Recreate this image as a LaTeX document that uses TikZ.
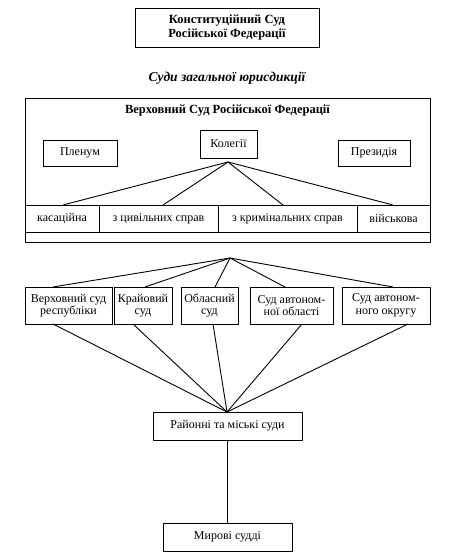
\documentclass[tikz,border=0pt]{standalone}
\usepackage{fontspec}
\setmainfont{Liberation Serif}
\usetikzlibrary{positioning}

\begin{document}
\begin{tikzpicture}[x=1pt,y=-1pt,line width=0.9pt,
  box/.style = {shape=rectangle, draw, align=center, inner sep=0pt,
    font=\fontsize{12}{12.5}\selectfont},
  bbox/.style = {box, font=\bfseries\fontsize{12.5}{14}\selectfont},
  link/.style = {draw}
  ]
  \useasboundingbox (0,0) rectangle (461,560);
  % top
  \node[bbox, minimum width=184pt, minimum height=39pt] (ks) at (227,27.5)
    {Конституційний Суд\\Російської Федерації};
  \node[font=\bfseries\itshape\fontsize{13.5}{15}\selectfont] (title) at (227,78)
    {Суди загальної юрисдикції};
  % supreme court
  \node[draw, minimum width=405pt, minimum height=144pt, inner sep=0pt] (vs) at (227.5,170) {};
  \node[font=\bfseries\fontsize{12.5}{14}\selectfont] (vsname) at (227.5,111)
    {Верховний Суд Російської Федерації};
  \node[box, minimum width=74pt, minimum height=26pt] (plenum) at (80,153) {Пленум};
  \node[box, minimum width=57pt, minimum height=28pt] (kolegii) at (228.5,144) {Колегії};
  \node[box, minimum width=72pt, minimum height=26pt] (prezid) at (374,153) {Президія};
  \coordinate (kolhub) at (228,162);
  \node[box, minimum width=74pt, minimum height=27pt] (kas) at (62,218.5) {касаційна};
  \node[box, minimum width=119pt, minimum height=27pt] (civ) at (158.5,218.5) {з цивільних справ};
  \node[box, minimum width=139pt, minimum height=27pt] (krim) at (287.5,218.5) {з кримінальних справ};
  \node[box, minimum width=73pt, minimum height=27pt] (viys) at (393.5,218.5) {військова};
  \foreach \n/\x in {kas/63,civ/163,krim/283,viys/393}
    \draw[link] (kolhub) -- (\x,205);
  % regional courts
  \coordinate (reghub) at (230,258);
  \node[box, minimum width=87pt, minimum height=37pt] (vsr) at (68.5,305.5)
    {Верховний суд\\республіки};
  \node[box, minimum width=58pt, minimum height=37pt] (kray) at (143,305.5) {Крайовий\\суд};
  \node[box, minimum width=57pt, minimum height=37pt] (obl) at (209.5,305.5) {Обласний\\суд};
  \node[box, minimum width=83pt, minimum height=37pt] (avtobl) at (291.5,305.5)
    {Суд автоном-\\ної області};
  \node[box, minimum width=88pt, minimum height=37pt] (avtokr) at (386,305.5)
    {Суд автоном-\\ного округу};
  \coordinate (rayhub) at (227,412);
  \foreach \n/\a/\b in {vsr/53/53,kray/145/133,obl/215/213,avtobl/285/302,avtokr/393/408}{
    \draw[link] (reghub) -- (\a,287);
    \draw[link] (\b,324) -- (rayhub);
  }
  % district and peace courts
  \node[box, minimum width=149pt, minimum height=28pt] (ray) at (227.5,426) {Районні та міські суди};
  \node[box, minimum width=129pt, minimum height=28pt] (myr) at (227.5,537) {Мирові судді};
  \draw[link] (ray) -- (myr);
\end{tikzpicture}
\end{document}
